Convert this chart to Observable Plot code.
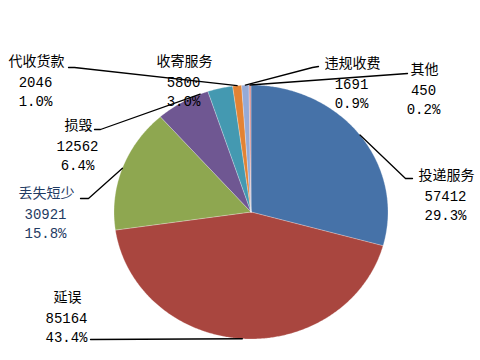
<!DOCTYPE html>
<html><head><meta charset="utf-8">
<script src="https://cdn.jsdelivr.net/npm/d3@7"></script>
<script src="https://cdn.jsdelivr.net/npm/@observablehq/plot@0.6"></script>
<style>body{margin:0;background:#fff;overflow:hidden}</style>
</head><body><div id="chart"></div>
<script>
// ---- data ----
const names = ["投递服务", "延误", "丢失短少", "损毁", "收寄服务", "代收货款", "违规收费", "其他"];
const values = [57412, 85164, 30921, 12562, 5800, 2046, 1691, 450];
const sliceColors = ["#4672A8", "#A9463F", "#8EA750", "#6F5792", "#4499B1", "#E38334", "#95AAD6", "#D69191"];

// ---- layout ----
const W = 480, H = 360;
const cx = 250.5, cy = 211.5, rx = 137, ry = 127;
const labelPos = [[445, 175], [66, 297], [45, 193], [77, 125], [183, 61], [35, 61], [351, 63], [423, 69]];
const lineGap = 19.5;
const leaderFrom = [
  [[412, 178], [405, 178]],
  [[90, 339]],
  [[80, 198], [88, 198]],
  [[94, 129], [100, 129]],
  null,
  [[68, 67], [74, 67]],
  [[318, 66], [312, 67]],
  [[407, 73]]
];
const leaderT = [0.5, 0.5, 0.5, 0.85, 0.5, 0.5, 0.5, 0.5];

const total = d3.sum(values);
const pctFmt = d3.format(".1%");
const arcs = d3.pie().sort(null).startAngle(0).endAngle(2 * Math.PI)(values);
const ell = a => [cx + rx * Math.sin(a), cy - ry * Math.cos(a)];

// slice polygons
const slicePts = [];
arcs.forEach((a, i) => {
  const n = Math.max(2, Math.ceil((a.endAngle - a.startAngle) / (Math.PI / 360)));
  slicePts.push({name: names[i], x: cx, y: cy});
  for (let k = 0; k <= n; k++) {
    const [x, y] = ell(a.startAngle + (a.endAngle - a.startAngle) * k / n);
    slicePts.push({name: names[i], x, y});
  }
  slicePts.push({name: names[i], x: cx, y: cy});
});

// leaders
const leaderPts = [];
arcs.forEach((a, i) => {
  if (!leaderFrom[i]) return;
  leaderFrom[i].forEach(([x, y]) => leaderPts.push({name: names[i], x, y}));
  const [ex, ey] = ell(a.startAngle + (a.endAngle - a.startAngle) * leaderT[i]);
  leaderPts.push({name: names[i], x: ex, y: ey});
});

// labels
const labels = names.map((nm, i) => ({
  name: nm,
  nums: values[i] + "\n" + pctFmt(values[i] / total),
  x: labelPos[i][0], y: labelPos[i][1],
  color: nm === "丢失短少" ? "#1F3B63" : "#000"
}));

const textMarks = (col) => [
  Plot.text(labels.filter(d => d.color === col), {
    x: "x", y: "y", text: "name", fill: col, fontSize: 14,
    fontFamily: "'Noto Sans CJK SC', sans-serif", textAnchor: "middle", lineAnchor: "middle", dx: 1,
    ariaLabel: "names"
  }),
  Plot.text(labels.filter(d => d.color === col), {
    x: "x", y: d => d.y + lineGap, text: "nums", fill: col, fontSize: 14,
    lineHeight: lineGap / 14,
    fontFamily: "'Liberation Mono', monospace", textAnchor: "middle", lineAnchor: "top", dy: -8
  })
];

const chart = Plot.plot({
  width: W, height: H, margin: 0,
  x: {domain: [0, W], range: [0, W], axis: null},
  y: {domain: [0, H], range: [0, H], axis: null},
  color: {domain: names, range: sliceColors},
  style: {background: "#fff"},
  marks: [
    Plot.line(slicePts, {x: "x", y: "y", z: "name", fill: "name", stroke: "#fff", strokeWidth: 0.5, strokeOpacity: 0.5, curve: "linear"}),
    Plot.line(leaderPts, {x: "x", y: "y", z: "name", stroke: "#000", strokeWidth: 1.3}),
    ...textMarks("#000"),
    ...textMarks("#1F3B63")
  ]
});
d3.select(chart).selectAll('g[aria-label="names"] text').attr("letter-spacing", 2);
document.getElementById("chart").appendChild(chart);
</script>
</body></html>
